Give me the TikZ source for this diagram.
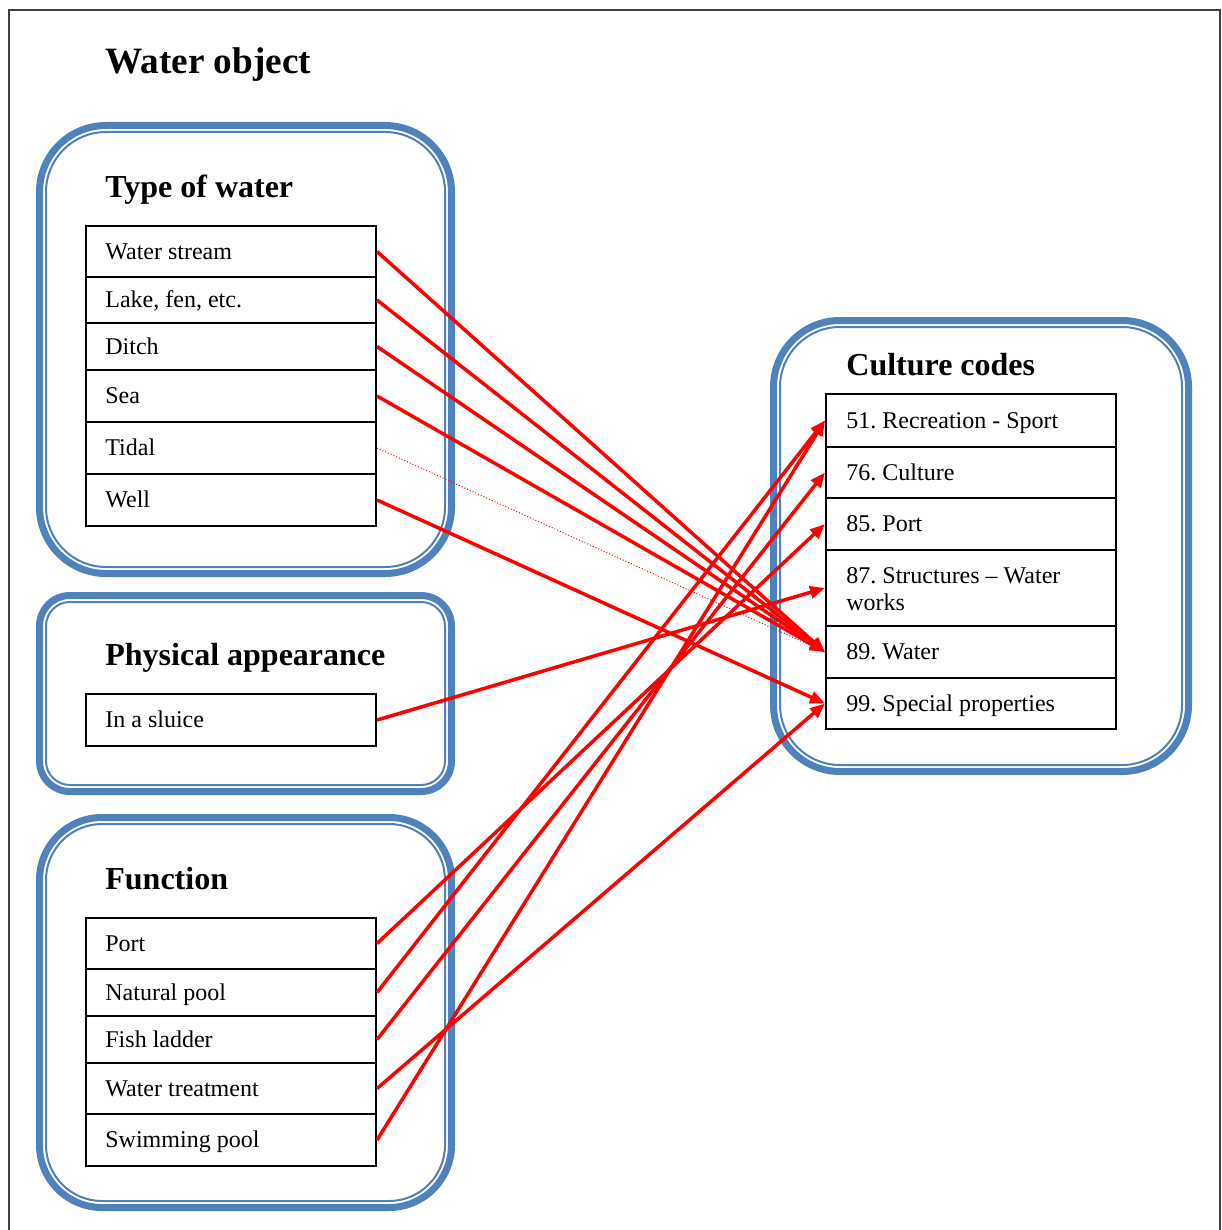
\documentclass[tikz,border=0pt]{standalone}
\usepackage{fontspec}
\setmainfont{Liberation Serif}
\usetikzlibrary{arrows.meta}
\definecolor{frameblue}{HTML}{4F81BD}
\frenchspacing
\begin{document}
\begin{tikzpicture}[x=0.5pt,y=-0.5pt,
  outerline/.style={draw=frameblue,line width=3.5pt},
  innerline/.style={draw=frameblue,line width=1pt},
  heading/.style={anchor=base west,inner sep=0pt,font=\bfseries\fontsize{16pt}{19pt}\selectfont},
  cell/.style={draw,line width=1pt,anchor=north west,minimum width=145pt,inner sep=0pt},
  celltext/.style={anchor=west,inner sep=0pt,text height=7.95pt,text depth=0pt,
    font=\fontsize{12pt}{13.8pt}\selectfont},
  link/.style={draw=red,line width=1.75pt,-{Triangle[length=7.5pt,width=6pt]}},
  faint/.style={draw=red,line width=0.5pt,densely dotted}]

\useasboundingbox (0,0) rectangle (1221,1230);

% page frame
\draw[line width=1pt,black!75] (9,1232) -- (9,10) -- (1220,10) -- (1220,1232);

% group frames: thick outer line with a thin inner line
\draw[outerline,rounded corners=33.25pt] (39.5,125.5) rectangle (451.5,573.5);
\draw[innerline,rounded corners=30pt] (46,132) rectangle (445,567);
\draw[outerline,rounded corners=15.25pt] (39.5,595.5) rectangle (451.5,791.5);
\draw[innerline,rounded corners=12pt] (46,602) rectangle (445,785);
\draw[outerline,rounded corners=31.25pt] (39.5,817.5) rectangle (451.5,1207.5);
\draw[innerline,rounded corners=28pt] (46,824) rectangle (445,1201);
\draw[outerline,rounded corners=33.25pt] (773.5,320.5) rectangle (1188.5,771.5);
\draw[innerline,rounded corners=30pt] (780,327) rectangle (1182,765);

% headings
\node[heading,font=\bfseries\fontsize{18.6pt}{22pt}\selectfont] (hwater) at (105,74) {Water object};
\node[heading] (htype) at (105,197.5) {Type of water};
\node[heading] (hphys) at (105,665.5) {Physical appearance};
\node[heading] (hfunc) at (105,889.5) {Function};
\node[heading] (hcult) at (846,375.5) {Culture codes};

% type of water
\node[cell,minimum height=25.5pt] (ws) at (85,225) {};
\node[cell,minimum height=23pt] (lake) at (85,276) {};
\node[cell,minimum height=23.5pt] (ditch) at (85,322) {};
\node[cell,minimum height=26pt] (sea) at (85,369) {};
\node[cell,minimum height=26pt] (tidal) at (85,421) {};
\node[cell,minimum height=26pt] (well) at (85,473) {};
\node[celltext] (tws) at ([xshift=10pt]ws.west) {Water stream};
\node[celltext] (tlake) at ([xshift=10pt]lake.west) {Lake, fen, etc.};
\node[celltext] (tditch) at ([xshift=10pt]ditch.west) {Ditch};
\node[celltext] (tsea) at ([xshift=10pt]sea.west) {Sea};
\node[celltext] (ttidal) at ([xshift=10pt]tidal.west) {Tidal};
\node[celltext] (twell) at ([xshift=10pt]well.west) {Well};

% physical appearance
\node[cell,minimum height=26pt] (sluice) at (85,693) {};
\node[celltext] (tsluice) at ([xshift=10pt]sluice.west) {In a sluice};

% function
\node[cell,minimum height=25.5pt] (port) at (85,917) {};
\node[cell,minimum height=23.5pt] (natural) at (85,968) {};
\node[cell,minimum height=23.5pt] (fish) at (85,1015) {};
\node[cell,minimum height=25.5pt] (treat) at (85,1062) {};
\node[cell,minimum height=26pt] (swim) at (85,1113) {};
\node[celltext] (tport) at ([xshift=10pt]port.west) {Port};
\node[celltext] (tnatural) at ([xshift=10pt]natural.west) {Natural pool};
\node[celltext] (tfish) at ([xshift=10pt]fish.west) {Fish ladder};
\node[celltext] (ttreat) at ([xshift=10pt]treat.west) {Water treatment};
\node[celltext] (tswim) at ([xshift=10pt]swim.west) {Swimming pool};

% culture codes
\node[cell,minimum height=26.5pt] (c51) at (825,393) {};
\node[cell,minimum height=25.5pt] (c76) at (825,446) {};
\node[cell,minimum height=26pt] (c85) at (825,497) {};
\node[cell,minimum height=38pt] (c87) at (825,549) {};
\node[cell,minimum height=26pt] (c89) at (825,625) {};
\node[cell,minimum height=25.5pt] (c99) at (825,677) {};
\node[celltext] (t51) at ([xshift=10.5pt]c51.west) {51. Recreation - Sport};
\node[celltext] (t76) at ([xshift=10.5pt]c76.west) {76. Culture};
\node[celltext] (t85) at ([xshift=10.5pt]c85.west) {85. Port};
\node[celltext] (t87a) at ([xshift=10.5pt,yshift=6.4pt]c87.west) {87. Structures – Water};
\node[celltext] (t87b) at ([xshift=10.5pt,yshift=-7.4pt]c87.west) {works};
\node[celltext] (t89) at ([xshift=10.5pt]c89.west) {89. Water};
\node[celltext] (t99) at ([xshift=10.5pt]c99.west) {99. Special properties};

% links
\draw[link] (ws.east) -- (c89.west);
\draw[link] (lake.east) -- (c89.west);
\draw[link] (ditch.east) -- (c89.west);
\draw[link] (sea.east) -- (c89.west);
\draw[faint] (tidal.east) -- (c89.west);
\draw[link] (well.east) -- (c99.west);
\draw[link] (sluice.east) -- (c87.west);
\draw[link] (port.east) -- (c85.west);
\draw[link] (natural.east) -- (c51.west);
\draw[link] (fish.east) -- (c76.west);
\draw[link] (treat.east) -- (c99.west);
\draw[link] (swim.east) -- (c51.west);
\end{tikzpicture}
\end{document}
